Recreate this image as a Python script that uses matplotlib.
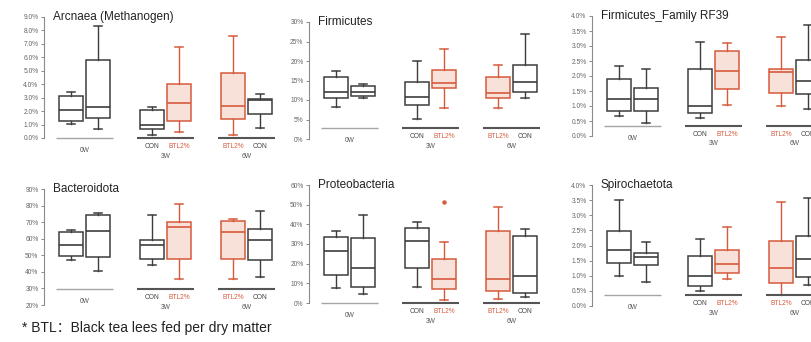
import matplotlib
matplotlib.use('Agg')
import matplotlib.pyplot as plt
from matplotlib.ticker import FuncFormatter

plt.rcParams['font.family'] = ['Liberation Sans', 'Noto Sans CJK SC', 'DejaVu Sans']

# ============================================================
# DATA  (relative abundance, %)
# box order: 0W, 0W, 3W CON, 3W BTL2%, 6W BTL2%, 6W CON
# each box = (whisker low, Q1, median, Q3, whisker high)
# ============================================================
archaea = [(1.05, 1.25, 2.1, 3.15, 3.45), (0.64, 1.47, 2.3, 5.8, 8.3),
           (0.26, 0.69, 1.0, 2.06, 2.34), (0.45, 1.28, 2.6, 4.0, 6.8),
           (0.2, 1.4, 2.39, 4.87, 7.6), (0.75, 1.8, 2.8, 2.9, 3.25)]
firmicutes = [(8.2, 10.6, 12.0, 16.0, 17.5), (10.5, 11.0, 12.1, 13.6, 14.2),
              (5.2, 8.8, 10.8, 14.7, 20.0), (8.0, 13.0, 14.4, 17.6, 23.0),
              (8.0, 10.5, 11.9, 16.0, 19.1), (10.5, 12.0, 14.6, 19.0, 27.0)]
rf39 = [(0.68, 0.82, 1.25, 1.9, 2.33), (0.45, 0.83, 1.24, 1.59, 2.24),
        (0.59, 0.78, 0.99, 2.22, 3.12), (1.02, 1.56, 2.16, 2.84, 3.1),
        (0.99, 1.44, 2.12, 2.24, 3.3), (0.91, 1.39, 1.82, 2.52, 3.7)]
bacteroidota = [(47, 49.5, 56, 64, 65.5), (40.5, 49, 64.7, 74.5, 75.5),
                (44, 48, 56.5, 59.5, 74.5), (35.5, 47.5, 67, 70, 81),
                (35.5, 48, 64, 70.5, 72), (37, 47, 59.5, 66, 76.5)]
proteobacteria = [(7.7, 14.4, 26.3, 33.8, 36.6), (4.6, 7.9, 17.8, 33.0, 44.8),
                  (8.0, 18.0, 31.5, 38.1, 41.4), (1.5, 7.2, 12.3, 22.2, 31.1),
                  (2.0, 6.3, 12.0, 36.8, 48.7), (2.9, 5.1, 13.7, 34.2, 37.4)]
proteo_outliers = [[], [], [], [51.3], [], []]
spirochaetota = [(1.0, 1.43, 1.84, 2.47, 3.5), (0.78, 1.34, 1.62, 1.74, 2.11),
                 (0.48, 0.65, 1.0, 1.65, 2.21), (0.9, 1.1, 1.39, 1.85, 2.6),
                 (0.36, 0.75, 1.26, 2.16, 3.44), (0.7, 0.97, 1.54, 2.33, 3.56)]

box_labels = ['', '', 'CON', 'BTL2%', 'BTL2%', 'CON']
is_btl = [False, False, False, True, True, False]
weeks = ['0W', '3W', '6W']
week_members = [[0, 1], [2, 3], [4, 5]]

DARK = '#3d3d3d'
RED = '#d65a3c'
RED_FILL = '#f8e1d9'
GRAY = '#8a8a8a'

# position (x px of y-spine, top px, bottom px) of each panel
FIG_W, FIG_H = 811, 342
X_POS = [1, 2, 4, 5, 7, 8]
PX_PER_UNIT = 27

panels = [
    # title, stats, outliers, ylim, step, decimals, group line y, col, row
    ("Arcnaea (Methanogen)", archaea, None, (0, 9), 1, 1, 0.0, 44, (17, 138)),
    ("Firmicutes", firmicutes, None, (0, 30), 5, 0, 2.8, 309, (22, 139)),
    ("Firmicutes_Family RF39", rf39, None, (0, 4), 0.5, 1, 0.34, 592, (16, 136)),
    ("Bacteroidota", bacteroidota, None, (20, 90), 10, 0, 29.6, 44, (189, 305)),
    ("Proteobacteria", proteobacteria, proteo_outliers, (0, 60), 10, 0, 0.0, 309, (185, 303)),
    ("Spirochaetota", spirochaetota, None, (0, 4), 0.5, 1, 0.36, 592, (185, 306)),
]


def gambar_panel(fig, title, stats, outliers, ylim, step, dec, gline_y, x0, rows):
    top, bottom = rows
    width = 9 * PX_PER_UNIT
    ax = fig.add_axes([x0 / FIG_W, 1 - bottom / FIG_H, width / FIG_W, (bottom - top) / FIG_H])

    bxp_stats = []
    for i, (lo, q1, med, q3, hi) in enumerate(stats):
        bxp_stats.append({
            'whislo': lo, 'q1': q1, 'med': med, 'q3': q3, 'whishi': hi,
            'fliers': outliers[i] if outliers else [],
        })

    for i, st in enumerate(bxp_stats):
        c = RED if is_btl[i] else DARK
        fill = RED_FILL if is_btl[i] else 'white'
        ax.bxp([st], positions=[X_POS[i]], widths=0.9, capwidths=0.32,
               patch_artist=True, showfliers=True,
               boxprops=dict(facecolor=fill, edgecolor=c, linewidth=1.1),
               whiskerprops=dict(color=c, linewidth=1.0),
               capprops=dict(color=c, linewidth=1.1),
               medianprops=dict(color=c, linewidth=1.2),
               flierprops=dict(marker='o', markersize=2.2, markerfacecolor=RED,
                               markeredgecolor=RED))

    # garis kelompok + label minggu
    for w, members in zip(weeks, week_members):
        xs = [X_POS[m] for m in members]
        light = (w == '0W')
        ax.plot([min(xs) - 0.55, max(xs) + 0.55], [gline_y, gline_y],
                color='#a5a5a5' if light else '#555555',
                lw=1.0 if light else 1.5, clip_on=False, solid_capstyle='butt')
        if light:
            ax.annotate(w, (sum(xs) / 2, gline_y), xytext=(0, -9), textcoords='offset points',
                        ha='center', va='center', fontsize=4.8, color='#555555',
                        annotation_clip=False)
        else:
            for m in members:
                ax.annotate(box_labels[m], (X_POS[m], gline_y), xytext=(0, -6),
                            textcoords='offset points', ha='center', va='center',
                            fontsize=4.8, color=RED if is_btl[m] else '#444444',
                            annotation_clip=False)
            ax.annotate(w, (sum(xs) / 2, gline_y), xytext=(0, -13), textcoords='offset points',
                        ha='center', va='center', fontsize=4.8, color='#555555',
                        annotation_clip=False)

    ax.set_xlim(0, 9)
    ax.set_ylim(*ylim)
    n = int(round((ylim[1] - ylim[0]) / step))
    ax.set_yticks([ylim[0] + k * step for k in range(n + 1)])
    ax.yaxis.set_major_formatter(FuncFormatter(lambda v, p: f"{v:.{dec}f}%"))
    ax.tick_params(axis='y', labelsize=4.8, labelcolor='#666666', color=GRAY,
                   length=2, width=0.7, pad=2)
    ax.set_xticks([])
    for s in ['top', 'right', 'bottom']:
        ax.spines[s].set_visible(False)
    ax.spines['left'].set_color(GRAY)
    ax.spines['left'].set_linewidth(0.8)

    ax.text(0.035, 1.0, title, transform=ax.transAxes, ha='left', va='center',
            fontsize=8.5, color='#222222')
    return ax


fig = plt.figure(figsize=(FIG_W / 100, FIG_H / 100), dpi=100)
fig.patch.set_facecolor('white')

for p in panels:
    gambar_panel(fig, *p)

fig.text(22 / FIG_W, 1 - 328 / FIG_H, "* BTL：Black tea lees fed per dry matter",
         ha='left', va='center', fontsize=10, color='#222222')

fig.savefig('out.png', dpi=100, facecolor='white')
